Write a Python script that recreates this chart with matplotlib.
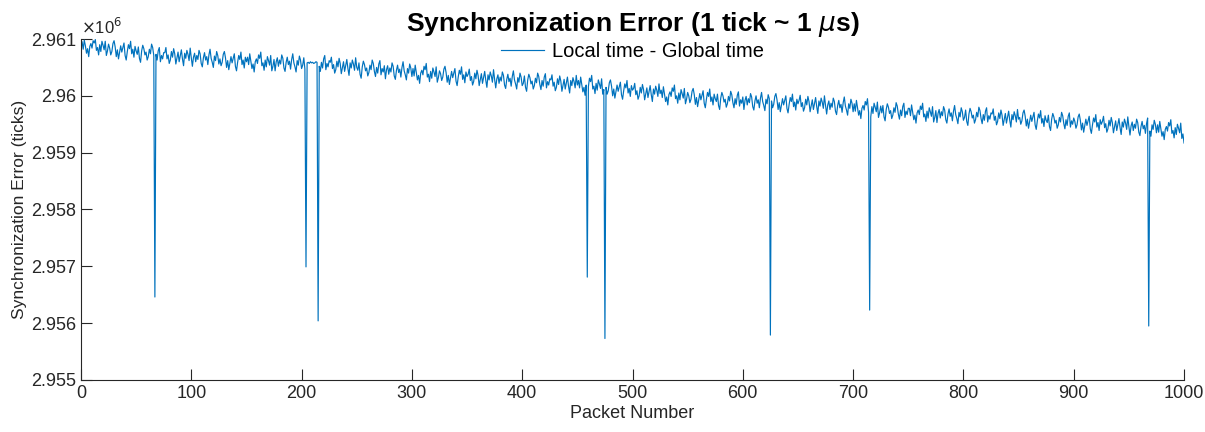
import matplotlib
matplotlib.use("Agg")
import matplotlib.pyplot as plt
from matplotlib.ticker import FuncFormatter
import numpy as np

plt.rcParams['font.family'] = ['Liberation Sans', 'DejaVu Sans']

# synchronization error in ticks, stored as ticks above 2,959,000 (packets 1..1000)
base = 2959000
err_rows = [
    [1950, 1820, 1980, 1880, 1750, 1830, 1690, 1870, 1920, 1840, 1970, 1930, 1990, 1800, 1850, 1720, 1900, 1780, 1960, 1890, 1810, 1960, 1710, 1790, 1910],
    [1840, 1720, 1780, 1920, 1970, 1860, 1690, 1810, 1650, 1760, 1880, 1770, 1850, 1930, 1710, 1630, 1780, 1900, 1830, 1960, 1740, 1820, 1680, 1870, 1790],
    [1730, 1860, 1660, 1590, 1790, 1890, 1830, 1720, 1770, 1630, 1690, 1820, 1740, 1910, 1850, 1710, -2540, 1730, 1630, 1790, 1850, 1600, 1710, 1650, 1760],
    [1760, 1850, 1650, 1720, 1570, 1630, 1780, 1680, 1830, 1740, 1560, 1670, 1770, 1600, 1710, 1810, 1650, 1530, 1750, 1660, 1800, 1730, 1620, 1840, 1670],
    [1520, 1680, 1750, 1600, 1710, 1640, 1800, 1740, 1570, 1510, 1670, 1760, 1630, 1690, 1550, 1720, 1820, 1660, 1590, 1500, 1700, 1620, 1780, 1710, 1560],
    [1650, 1530, 1590, 1730, 1780, 1670, 1500, 1620, 1460, 1570, 1690, 1580, 1660, 1740, 1520, 1440, 1590, 1710, 1640, 1770, 1550, 1630, 1490, 1680, 1600],
    [1680, 1550, 1740, 1610, 1480, 1560, 1420, 1600, 1650, 1570, 1720, 1660, 1770, 1530, 1580, 1450, 1630, 1510, 1690, 1620, 1540, 1710, 1440, 1520, 1640],
    [1440, 1600, 1670, 1520, 1630, 1560, 1720, 1660, 1490, 1430, 1590, 1680, 1550, 1610, 1470, 1640, 1740, 1580, 1510, 1420, 1620, 1540, 1700, 1630, 1480],
    [1540, 1670, 1470, -2010, 1580, 1590, 1570, 1600, 1580, 1590, 1570, 1580, 1600, 1590, -2960, 1520, 1430, 1590, 1490, 1650, 1710, 1460, 1570, 1510, 1620],
    [1590, 1680, 1480, 1550, 1400, 1460, 1610, 1510, 1660, 1570, 1390, 1500, 1600, 1430, 1540, 1640, 1480, 1360, 1580, 1490, 1630, 1560, 1450, 1670, 1500],
    [1450, 1580, 1380, 1310, 1510, 1610, 1550, 1440, 1490, 1350, 1410, 1540, 1460, 1630, 1570, 1430, 1340, 1500, 1400, 1560, 1620, 1370, 1480, 1420, 1530],
    [1300, 1460, 1530, 1380, 1490, 1420, 1580, 1520, 1350, 1290, 1450, 1540, 1410, 1470, 1330, 1500, 1600, 1440, 1370, 1280, 1480, 1400, 1560, 1490, 1340],
    [1480, 1350, 1540, 1410, 1280, 1360, 1220, 1400, 1450, 1370, 1520, 1460, 1570, 1330, 1380, 1250, 1430, 1310, 1490, 1420, 1340, 1510, 1240, 1320, 1440],
    [1390, 1270, 1330, 1470, 1520, 1410, 1240, 1360, 1200, 1310, 1430, 1320, 1400, 1480, 1260, 1180, 1330, 1450, 1380, 1510, 1290, 1370, 1230, 1420, 1340],
    [1380, 1470, 1270, 1340, 1190, 1250, 1400, 1300, 1450, 1360, 1180, 1290, 1390, 1220, 1330, 1430, 1270, 1150, 1370, 1280, 1420, 1350, 1240, 1460, 1290],
    [1140, 1300, 1370, 1220, 1330, 1260, 1420, 1360, 1190, 1130, 1290, 1380, 1250, 1310, 1170, 1340, 1440, 1280, 1210, 1120, 1320, 1240, 1400, 1330, 1180],
    [1220, 1350, 1150, 1080, 1280, 1380, 1320, 1210, 1260, 1120, 1180, 1310, 1230, 1400, 1340, 1200, 1110, 1270, 1170, 1330, 1390, 1140, 1250, 1190, 1300],
    [1280, 1370, 1170, 1240, 1090, 1150, 1300, 1200, 1350, 1260, 1080, 1190, 1290, 1120, 1230, 1330, 1170, 1050, 1270, 1180, 1320, 1250, 1140, 1360, 1190],
    [1270, 1140, 1330, 1200, 1070, 1150, 1010, 1190, -2190, 1160, 1310, 1250, 1360, 1120, 1170, 1040, 1220, 1100, 1280, 1210, 1130, 1300, 1030, 1110, -3270],
    [1150, 1030, 1090, 1230, 1280, 1170, 1000, 1120, 960, 1070, 1190, 1080, 1160, 1240, 1020, 940, 1090, 1210, 1140, 1270, 1050, 1130, 990, 1180, 1100],
    [1130, 1220, 1020, 1090, 940, 1000, 1150, 1050, 1200, 1110, 930, 1040, 1140, 970, 1080, 1180, 1020, 900, 1120, 1030, 1170, 1100, 990, 1210, 1040],
    [1100, 970, 1160, 1030, 900, 980, 840, 1020, 1070, 990, 1140, 1080, 1190, 950, 1000, 870, 1050, 930, 1110, 1040, 960, 1130, 860, 940, 1060],
    [1000, 880, 940, 1080, 1130, 1020, 850, 970, 810, 920, 1040, 930, 1010, 1090, 870, 790, 940, 1060, 990, 1120, 900, 980, 840, 1030, 950],
    [900, 1030, 830, 760, 960, 1060, 1000, 890, 940, 800, 860, 990, 910, 1080, 1020, 880, 790, 950, 850, 1010, 1070, 820, 930, 870, 980],
    [760, 920, 990, 840, 950, 880, 1040, 980, 810, 750, 910, 1000, 870, 930, 790, 960, 1060, 900, 830, 740, 940, 860, 1020, 950, -3210],
    [910, 790, 850, 990, 1040, 930, 760, 880, 720, 830, 950, 840, 920, 1000, 780, 700, 850, 970, 900, 1030, 810, 890, 750, 940, 860],
    [920, 1010, 810, 880, 730, 790, 940, 840, 990, 900, 720, 830, 930, 760, 870, 970, 810, 690, 910, 820, 960, 890, 780, 1000, 830],
    [680, 840, 910, 760, 870, 800, 960, 900, 730, 670, 830, 920, 790, 850, 710, 880, 980, 820, 750, 660, 860, 780, 940, 870, 720],
    [860, 730, 920, 790, 660, 740, 600, 780, 830, 750, 900, 840, 950, 710, -2770, 630, 810, 690, 870, 800, 720, 890, 620, 700, 820],
    [700, 830, 630, 560, 760, 860, 800, 690, 740, 600, 660, 790, 710, 880, 820, 680, 590, 750, 650, 810, 870, 620, 730, 670, 780],
    [780, 650, 840, 710, 580, 660, 520, 700, 750, 670, 820, 760, 870, 630, 680, 550, 730, 610, 790, 720, 640, 810, 540, 620, 740],
    [530, 690, 760, 610, 720, 650, 810, 750, 580, 520, 680, 770, 640, 700, 560, 730, 830, 670, 600, 510, 710, 630, 790, 720, 570],
    [620, 750, 550, 480, 680, 780, 720, 610, 660, 520, 580, 710, 630, 800, 740, 600, 510, 670, 570, 730, 790, 540, 650, 590, 700],
    [680, 770, 570, 640, 490, 550, 700, 600, 750, 660, 480, 590, 690, 520, 630, 730, 570, 450, 670, 580, 720, 650, 540, 760, 590],
    [620, 500, 560, 700, 750, 640, 470, 590, 430, 540, 660, 550, 630, 710, 490, 410, 560, 680, 610, 740, 520, 600, 460, 650, 570],
    [530, 660, 460, 390, 590, 690, 630, 520, 570, 430, 490, 620, 540, 710, 650, 510, 420, 580, 480, 640, 700, 450, 560, 500, 610],
    [550, 430, 490, 630, 680, 570, 400, 520, 360, 470, 590, 480, 560, 640, 420, 340, 490, 610, 540, 670, 450, 530, 390, 580, 500],
    [550, 640, 440, 510, 360, 420, 570, 470, 620, 530, 350, 460, 560, 390, 500, 600, 440, 320, 540, 450, 590, 520, 410, 630, 460],
    [310, 470, 540, 390, 500, 430, 590, 530, 360, 300, 460, 550, 420, 480, 340, 510, 610, -3050, 380, 290, 490, 410, 570, 500, 350],
    [490, 360, 550, 420, 290, 370, 230, 410, 460, 380, 530, 470, 580, 340, 390, 260, 440, 320, 500, 430, 350, 520, 250, 330, 170],
]
err = base + np.array(err_rows).ravel()
packets = np.arange(1, len(err) + 1)

x_ticks = np.arange(0, 1001, 100)
y_ticks = np.arange(2955000, 2961001, 1000)

fig = plt.figure(figsize=(12.05, 4.32), dpi=100)
ax = fig.add_axes([0.0672, 0.1204, 0.9154, 0.7893])
axc = '#262626'

ax.plot(packets, err, color='#0072BD', lw=0.85, label='Local time - Global time')

ax.set_xlim(0, 1000)
ax.set_ylim(2955000, 2961000)
ax.set_xticks(x_ticks)
ax.set_yticks(y_ticks)
ax.yaxis.set_major_formatter(FuncFormatter(lambda v, p: f'{v / 1e6:g}'))
ax.tick_params(direction='in', length=8, width=0.8, colors=axc, labelsize=13)
for s in ['top', 'right']:
    ax.spines[s].set_visible(False)
for s in ['left', 'bottom']:
    ax.spines[s].set_color(axc)
    ax.spines[s].set_linewidth(0.8)

ax.set_xlabel('Packet Number', fontsize=13, color=axc, labelpad=2)
ax.set_ylabel('Synchronization Error (ticks)', fontsize=12.5, color=axc, labelpad=3)
ax.set_title('Synchronization Error (1 tick ~ 1 $\\mu$s)', fontsize=19, fontweight='bold', pad=6)
ax.text(0.0, 1.005, '$\\times$10$^6$', transform=ax.transAxes, fontsize=12,
        color=axc, ha='left', va='bottom')

ax.legend(loc='upper center', frameon=False, fontsize=14.5, handlelength=2.1,
          handletextpad=0.4, borderaxespad=0.0, bbox_to_anchor=(0.5, 1.015))

fig.savefig('out.png', dpi=100)
